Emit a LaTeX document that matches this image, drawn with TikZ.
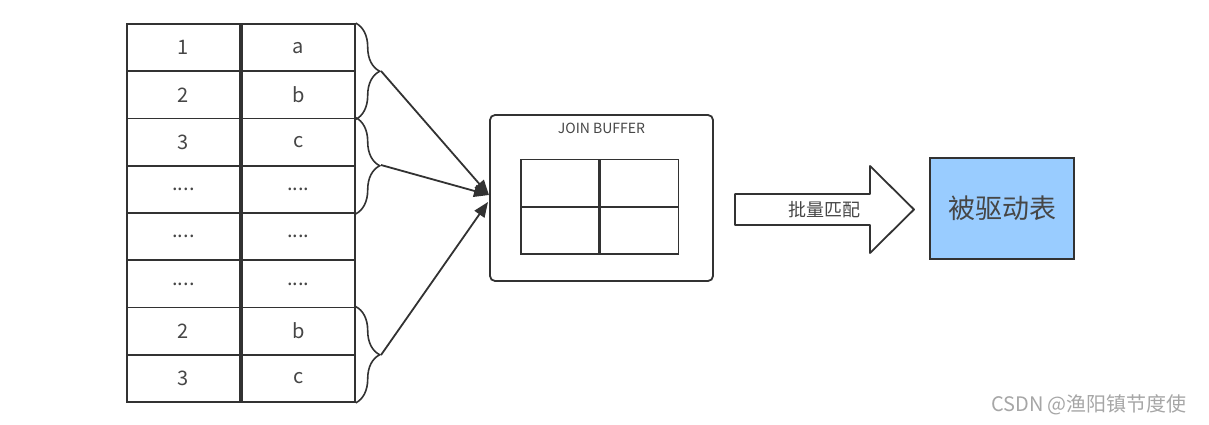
\documentclass[tikz,border=0pt]{standalone}
\usepackage{fontspec}
\setmainfont{Noto Sans CJK SC}
\usetikzlibrary{arrows.meta,positioning,decorations.pathreplacing}
\definecolor{linec}{RGB}{50,50,50}
\definecolor{textc}{RGB}{70,70,70}
\definecolor{blueb}{RGB}{153,204,255}
\newcommand{\rowdots}{....}
\begin{document}
\begin{tikzpicture}[
    x=1pt, y=-1pt,
    cell/.style={draw=linec, line width=1.8pt, minimum width=113pt, minimum height=47.25pt, inner sep=0pt, font=\fontsize{20}{22}\selectfont, text=textc},
    grid/.style={draw=linec, line width=1.4pt, minimum width=78pt, minimum height=46.5pt, inner sep=0pt},
    brc/.style={decorate, decoration={brace, amplitude=24pt}, draw=linec, line width=1.6pt},
    arr/.style={-{Triangle[length=15pt,width=12pt]}, draw=linec, line width=1.8pt}
]
    \useasboundingbox (0,0) rectangle (1209,425);

    % Outer table
    \foreach \i/\k/\v in {1/1/a,2/2/b,3/3/c,4/\rowdots/\rowdots,5/\rowdots/\rowdots,6/\rowdots/\rowdots,7/2/b,8/3/c} {
        \node[cell] (k\i) at (183.5,{24+47.25*(\i-0.5)}) {\k};
        \node[cell, right=0pt of k\i] (v\i) {\v};
    }

    % Braces
    \draw[brc] (v1.north east) -- (v2.south east);
    \draw[brc] (v3.north east) -- (v4.south east);
    \draw[brc] (v7.north east) -- (v8.south east);
    \coordinate (t1) at (381,71);
    \coordinate (t2) at (381,165);
    \coordinate (t3) at (381,355);

    % Join buffer
    \node[draw=linec, line width=1.8pt, rounded corners=5pt, minimum width=223pt, minimum height=166pt] (buf) at (601.5,198) {};
    \node[font=\fontsize{14}{16}\selectfont, text=textc] (title) at (601.5,128) {JOIN BUFFER};
    \node[grid] (g1) at (560,183) {};
    \node[grid, right=0pt of g1] (g2) {};
    \node[grid, below=0pt of g1] (g3) {};
    \node[grid, right=0pt of g3] (g4) {};

    \coordinate (h1) at (489,195);
    \coordinate (h2) at (488,202);
    \draw[arr] (t1) -- (h1);
    \draw[arr] (t2) -- (h1);
    \draw[arr] (t3) -- (h2);

    % Batch arrow
    \draw[linec, line width=1.8pt, line join=round] (735,194) -- (870,194) -- (870,166) -- (914,209.5) -- (870,253) -- (870,225) -- (735,225) -- cycle;
    \node[font=\fontsize{18}{20}\selectfont, text=textc] (lbl) at (824,210) {批量匹配};

    % Driven table
    \node[draw=linec, line width=1.8pt, fill=blueb, minimum width=144pt, minimum height=101pt, font=\fontsize{27}{30}\selectfont, text=textc] (drv) at (1002,208.5) {被驱动表};

    \node[font=\fontsize{20}{22}\selectfont, text=black!35] (wm) at (1089,405) {CSDN @渔阳镇节度使};
\end{tikzpicture}
\end{document}
